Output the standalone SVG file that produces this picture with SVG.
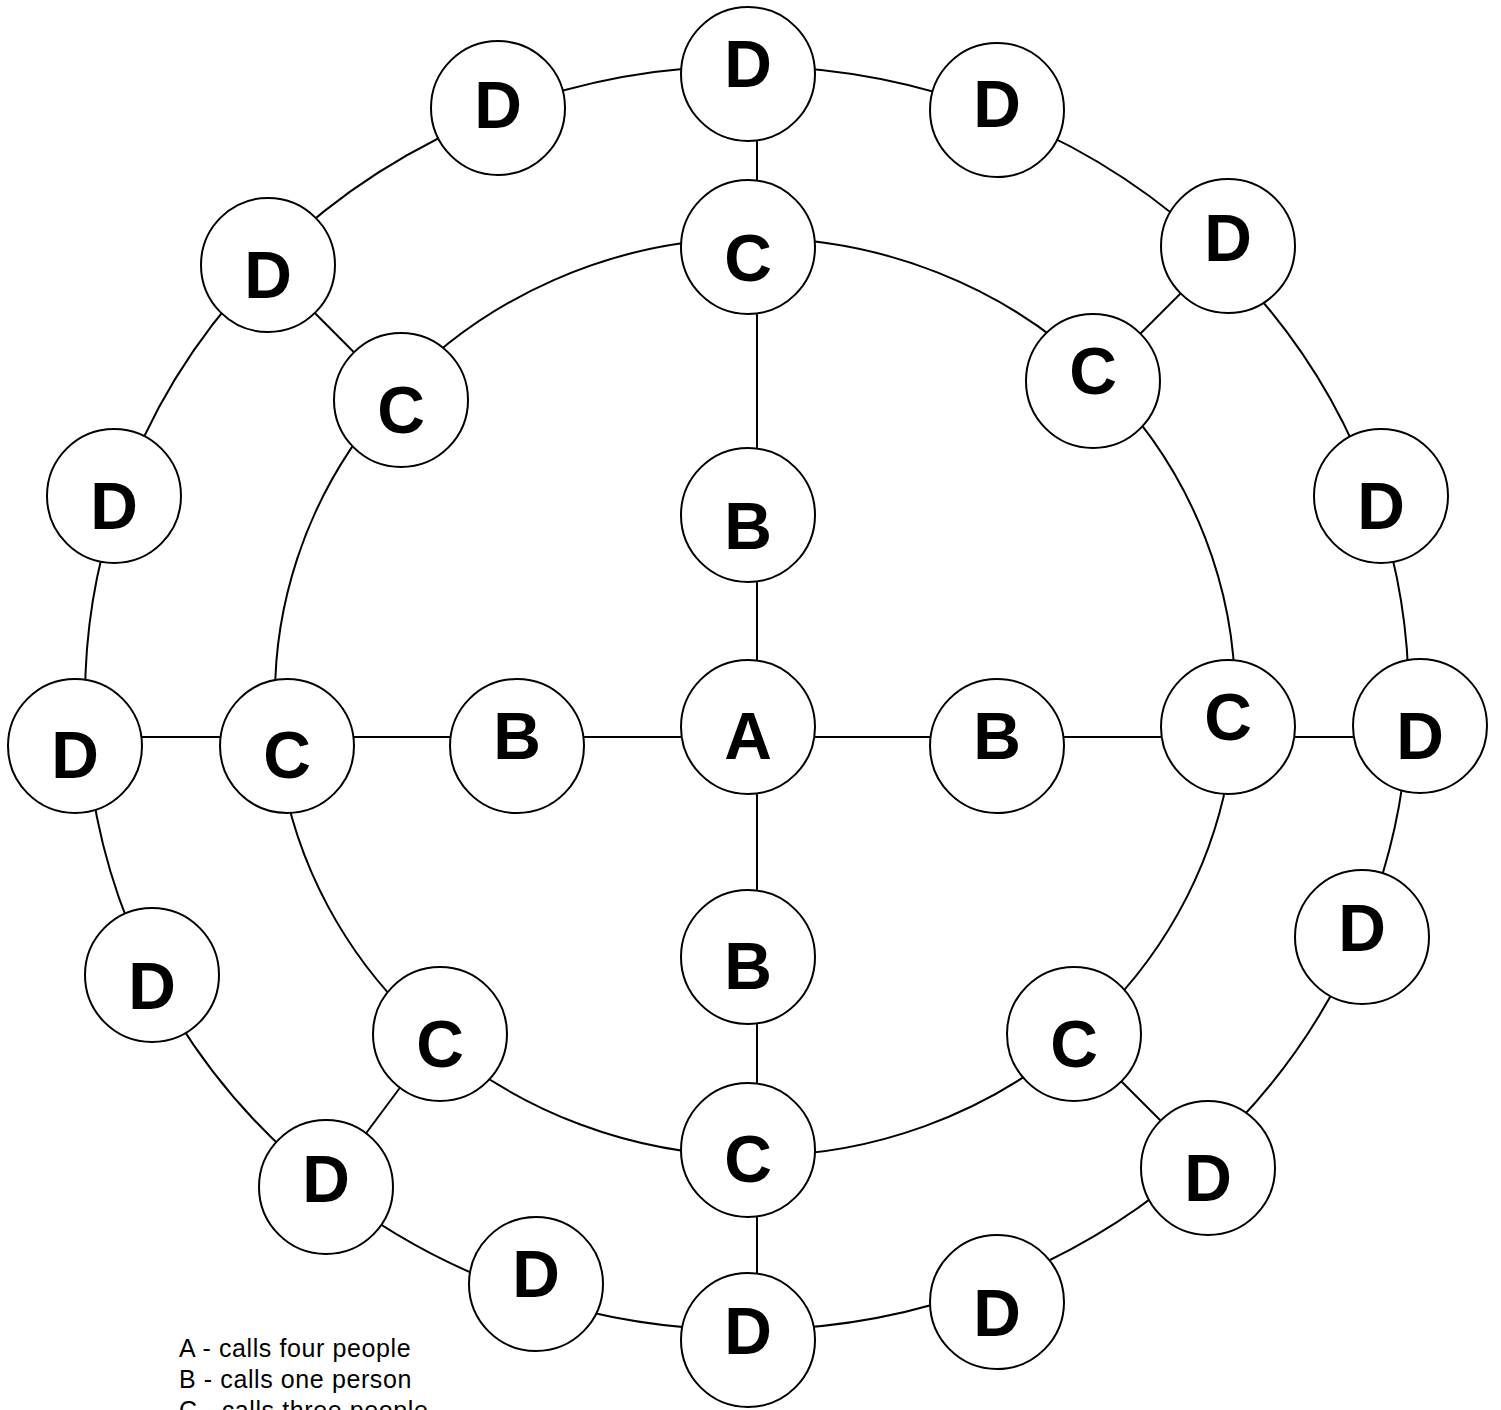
<svg xmlns="http://www.w3.org/2000/svg" width="1501" height="1410" viewBox="0 0 1501 1410">
<style>
.node circle{fill:#fff;stroke:#000;stroke-width:2}
.node text{font-family:"Liberation Sans",Arial,sans-serif;font-weight:bold;font-size:66px;text-anchor:middle;fill:#000}
.edge{fill:none;stroke:#000;stroke-width:2}
.legend{font-family:"Liberation Sans",Arial,sans-serif;font-size:25px;letter-spacing:0.6px;fill:#000}
</style>
<rect width="1501" height="1410" fill="#fff"/>
<g id="connectors">
  <line class="edge" x1="757" y1="74" x2="757" y2="247"/>
  <line class="edge" x1="757" y1="247" x2="757" y2="515"/>
  <line class="edge" x1="757" y1="515" x2="757" y2="727"/>
  <line class="edge" x1="757" y1="727" x2="757" y2="957"/>
  <line class="edge" x1="757" y1="957" x2="757" y2="1150"/>
  <line class="edge" x1="757" y1="1150" x2="757" y2="1340"/>
  <line class="edge" x1="75" y1="737" x2="287" y2="737"/>
  <line class="edge" x1="287" y1="737" x2="517" y2="737"/>
  <line class="edge" x1="517" y1="737" x2="748" y2="737"/>
  <line class="edge" x1="748" y1="737" x2="997" y2="737"/>
  <line class="edge" x1="997" y1="737" x2="1228" y2="737"/>
  <line class="edge" x1="1228" y1="737" x2="1420" y2="737"/>
  <line class="edge" x1="267.5" y1="265.5" x2="401.5" y2="400"/>
  <line class="edge" x1="1228" y1="246" x2="1093" y2="381"/>
  <line class="edge" x1="440" y1="1034" x2="326" y2="1187"/>
  <line class="edge" x1="1074" y1="1034" x2="1208" y2="1168"/>
  <path class="edge" d="M748,238 A480,459 0 0 1 1098,376"/>
  <path class="edge" d="M1098,376 A480,459 0 0 1 1234,727"/>
  <path class="edge" d="M1234,727 A480,459 0 0 1 1077,1037"/>
  <path class="edge" d="M1077,1037 A480,459 0 0 1 748,1156"/>
  <path class="edge" d="M748,1156 A480,459 0 0 1 435,1039"/>
  <path class="edge" d="M435,1039 A480,459 0 0 1 278,747"/>
  <path class="edge" d="M278,747 A480,459 0 0 1 394,394"/>
  <path class="edge" d="M394,394 A480,459 0 0 1 748,238"/>
  <path class="edge" d="M748,66 A662,632 0 0 1 995,112"/>
  <path class="edge" d="M995,112 A662,632 0 0 1 1219,255"/>
  <path class="edge" d="M1219,255 A662,632 0 0 1 1375,498"/>
  <path class="edge" d="M1375,498 A662,632 0 0 1 1408,725.5"/>
  <path class="edge" d="M1408,725.5 A662,632 0 0 1 1360,936"/>
  <path class="edge" d="M1360,936 A662,632 0 0 1 1199.5,1159"/>
  <path class="edge" d="M1199.5,1159 A662,632 0 0 1 990,1286"/>
  <path class="edge" d="M990,1286 A662,632 0 0 1 748,1330"/>
  <path class="edge" d="M748,1330 A662,632 0 0 1 532,1296"/>
  <path class="edge" d="M532,1296 A662,632 0 0 1 326.6,1186"/>
  <path class="edge" d="M326.6,1186 A662,632 0 0 1 152,975"/>
  <path class="edge" d="M152,975 A662,632 0 0 1 87,745"/>
  <path class="edge" d="M87,745 A662,632 0 0 1 119,498"/>
  <path class="edge" d="M119,498 A662,632 0 0 1 266,263.4"/>
  <path class="edge" d="M266,263.4 A662,632 0 0 1 499.4,111.5"/>
  <path class="edge" d="M499.4,111.5 A662,632 0 0 1 748,66"/>
</g>
<g id="nodes">
  <g id="A" class="node"><circle cx="748" cy="727" r="67"/><text x="748" y="759">A</text></g>
  <g id="B-top" class="node"><circle cx="748" cy="515" r="67"/><text x="748" y="549">B</text></g>
  <g id="B-left" class="node"><circle cx="517" cy="746" r="67"/><text x="517" y="759">B</text></g>
  <g id="B-right" class="node"><circle cx="997" cy="746" r="67"/><text x="997" y="759">B</text></g>
  <g id="B-bottom" class="node"><circle cx="748" cy="957" r="67"/><text x="748" y="989">B</text></g>
  <g id="C-top" class="node"><circle cx="748" cy="247" r="67"/><text x="748" y="281">C</text></g>
  <g id="C-upper-right" class="node"><circle cx="1093" cy="381" r="67"/><text x="1093" y="394">C</text></g>
  <g id="C-right" class="node"><circle cx="1228" cy="727" r="67"/><text x="1228" y="740">C</text></g>
  <g id="C-lower-right" class="node"><circle cx="1074" cy="1034" r="67"/><text x="1074" y="1067">C</text></g>
  <g id="C-bottom" class="node"><circle cx="748" cy="1150" r="67"/><text x="748" y="1182">C</text></g>
  <g id="C-lower-left" class="node"><circle cx="440" cy="1034" r="67"/><text x="440" y="1067">C</text></g>
  <g id="C-left" class="node"><circle cx="287" cy="746" r="67"/><text x="287" y="778">C</text></g>
  <g id="C-upper-left" class="node"><circle cx="401" cy="400" r="67"/><text x="401" y="433">C</text></g>
  <g id="D-1" class="node"><circle cx="748" cy="74" r="67"/><text x="748" y="87">D</text></g>
  <g id="D-2" class="node"><circle cx="997" cy="110" r="67"/><text x="997" y="127">D</text></g>
  <g id="D-3" class="node"><circle cx="1228" cy="246" r="67"/><text x="1228" y="261">D</text></g>
  <g id="D-4" class="node"><circle cx="1381" cy="496" r="67"/><text x="1381" y="529">D</text></g>
  <g id="D-5" class="node"><circle cx="1420" cy="726" r="67"/><text x="1420" y="759">D</text></g>
  <g id="D-6" class="node"><circle cx="1362" cy="937" r="67"/><text x="1362" y="951">D</text></g>
  <g id="D-7" class="node"><circle cx="1208" cy="1168" r="67"/><text x="1208" y="1201">D</text></g>
  <g id="D-8" class="node"><circle cx="997" cy="1302" r="67"/><text x="997" y="1336">D</text></g>
  <g id="D-9" class="node"><circle cx="748" cy="1340" r="67"/><text x="748" y="1354">D</text></g>
  <g id="D-10" class="node"><circle cx="536" cy="1284" r="67"/><text x="536" y="1297">D</text></g>
  <g id="D-11" class="node"><circle cx="326" cy="1187" r="67"/><text x="326" y="1202">D</text></g>
  <g id="D-12" class="node"><circle cx="152" cy="975" r="67"/><text x="152" y="1009">D</text></g>
  <g id="D-13" class="node"><circle cx="75" cy="746" r="67"/><text x="75" y="778">D</text></g>
  <g id="D-14" class="node"><circle cx="114" cy="496" r="67"/><text x="114" y="529">D</text></g>
  <g id="D-15" class="node"><circle cx="268" cy="265" r="67"/><text x="268" y="298">D</text></g>
  <g id="D-16" class="node"><circle cx="498" cy="108" r="67"/><text x="498" y="128">D</text></g>
</g>
<g id="legend">
  <text class="legend" x="179" y="1357">A - calls four people</text>
  <text class="legend" x="179" y="1388">B - calls one person</text>
  <text class="legend" x="179" y="1419">C - calls three people</text>
</g>
</svg>
